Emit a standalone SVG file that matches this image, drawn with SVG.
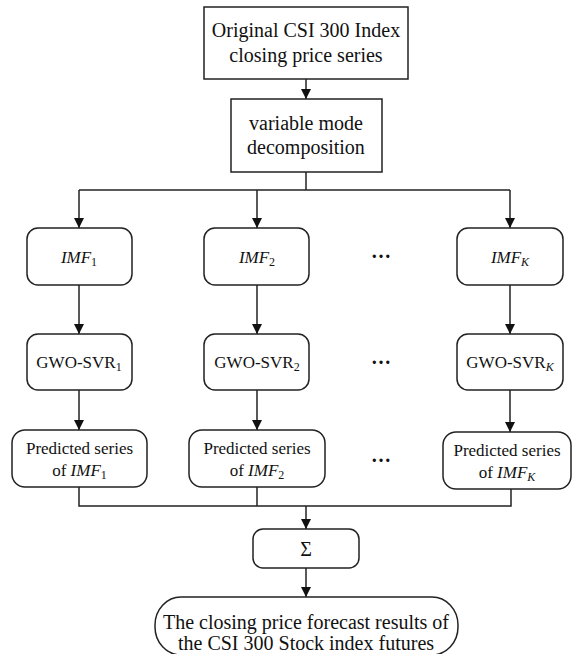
<svg xmlns="http://www.w3.org/2000/svg" width="572" height="654" viewBox="0 0 572 654">
<style>
.box{fill:#fff;stroke:#222;stroke-width:1.5}
.ln{fill:none;stroke:#222;stroke-width:1.5}
.t{font-family:"Liberation Serif","Times New Roman",serif;font-size:20px;fill:#111;text-anchor:middle}
.m{font-size:17px}
.i{font-style:italic}
.s{font-size:12px}
.d{font-family:"Liberation Serif",serif;font-size:20px;font-weight:bold;fill:#111;text-anchor:middle}
</style>
<defs>
<marker id="ah" markerUnits="userSpaceOnUse" markerWidth="10" markerHeight="10" refX="10" refY="5" orient="auto">
<path d="M0,0 L10,5 L0,10 z" fill="#111"/>
</marker>
</defs>
<g id="connectors">
<line class="ln" x1="306" y1="79" x2="306" y2="99" marker-end="url(#ah)"/>
<line class="ln" x1="306" y1="172" x2="306" y2="190"/>
<line class="ln" x1="79" y1="190" x2="510" y2="190"/>
<line class="ln" x1="79" y1="190" x2="79" y2="228" marker-end="url(#ah)"/>
<line class="ln" x1="257" y1="190" x2="257" y2="228" marker-end="url(#ah)"/>
<line class="ln" x1="510" y1="190" x2="510" y2="228" marker-end="url(#ah)"/>
<line class="ln" x1="79" y1="285" x2="79" y2="334" marker-end="url(#ah)"/>
<line class="ln" x1="257" y1="285" x2="257" y2="334" marker-end="url(#ah)"/>
<line class="ln" x1="510" y1="285" x2="510" y2="334" marker-end="url(#ah)"/>
<line class="ln" x1="79" y1="390" x2="79" y2="430" marker-end="url(#ah)"/>
<line class="ln" x1="257" y1="390" x2="257" y2="430" marker-end="url(#ah)"/>
<line class="ln" x1="510" y1="390" x2="510" y2="432" marker-end="url(#ah)"/>
<polyline class="ln" points="79,487 79,506 511,506 511,489"/>
<line class="ln" x1="257" y1="487" x2="257" y2="506"/>
<line class="ln" x1="306" y1="506" x2="306" y2="529" marker-end="url(#ah)"/>
<line class="ln" x1="306" y1="568" x2="306" y2="597" marker-end="url(#ah)"/>
</g>
<g id="original">
<rect class="box" x="204" y="7" width="204" height="72"/>
<text class="t" x="306" y="37">Original CSI 300 Index</text>
<text class="t" x="306" y="62">closing price series</text>
</g>
<g id="vmd">
<rect class="box" x="231" y="99" width="151" height="73"/>
<text class="t" x="306" y="130">variable mode</text>
<text class="t" x="306" y="154">decomposition</text>
</g>
<g id="imf1">
<rect class="box" x="27" y="228" width="105" height="57" rx="11"/>
<text class="t m" x="79" y="263"><tspan class="i">IMF</tspan><tspan class="s" dy="3">1</tspan></text>
</g>
<g id="imf2">
<rect class="box" x="204" y="228" width="105" height="57" rx="11"/>
<text class="t m" x="257" y="263"><tspan class="i">IMF</tspan><tspan class="s" dy="3">2</tspan></text>
</g>
<g id="imfk">
<rect class="box" x="457" y="228" width="106" height="57" rx="11"/>
<text class="t m" x="510" y="263"><tspan class="i">IMF</tspan><tspan class="s i" dy="3">K</tspan></text>
</g>
<g id="gwo1">
<rect class="box" x="27" y="334" width="105" height="56" rx="11"/>
<text class="t m" x="79" y="368">GWO-SVR<tspan class="s" dy="3">1</tspan></text>
</g>
<g id="gwo2">
<rect class="box" x="204" y="334" width="105" height="56" rx="11"/>
<text class="t m" x="257" y="368">GWO-SVR<tspan class="s" dy="3">2</tspan></text>
</g>
<g id="gwok">
<rect class="box" x="457" y="334" width="106" height="56" rx="11"/>
<text class="t m" x="510" y="368">GWO-SVR<tspan class="s i" dy="3">K</tspan></text>
</g>
<g id="pred1">
<rect class="box" x="12" y="430" width="135" height="57" rx="13"/>
<text class="t m" x="79.5" y="454">Predicted series</text>
<text class="t m" x="79.5" y="476">of <tspan class="i">IMF</tspan><tspan class="s" dy="3">1</tspan></text>
</g>
<g id="pred2">
<rect class="box" x="189" y="430" width="136" height="57" rx="13"/>
<text class="t m" x="257" y="454">Predicted series</text>
<text class="t m" x="257" y="476">of <tspan class="i">IMF</tspan><tspan class="s" dy="3">2</tspan></text>
</g>
<g id="predk">
<rect class="box" x="443" y="432" width="128" height="57" rx="13"/>
<text class="t m" x="507" y="456">Predicted series</text>
<text class="t m" x="507" y="478">of <tspan class="i">IMF</tspan><tspan class="s i" dy="3">K</tspan></text>
</g>
<g id="dots">
<text class="d" x="381" y="258">…</text>
<text class="d" x="381" y="364">…</text>
<text class="d" x="381" y="462">…</text>
</g>
<g id="sum">
<rect class="box" x="253" y="529" width="106" height="39" rx="10"/>
<text class="t" x="306" y="556">Σ</text>
</g>
<g id="result">
<rect class="box" x="155" y="597" width="303" height="58" rx="26" ry="28"/>
<text class="t" x="306" y="629">The closing price forecast results of</text>
<text class="t" x="306" y="650">the CSI 300 Stock index futures</text>
</g>
</svg>
